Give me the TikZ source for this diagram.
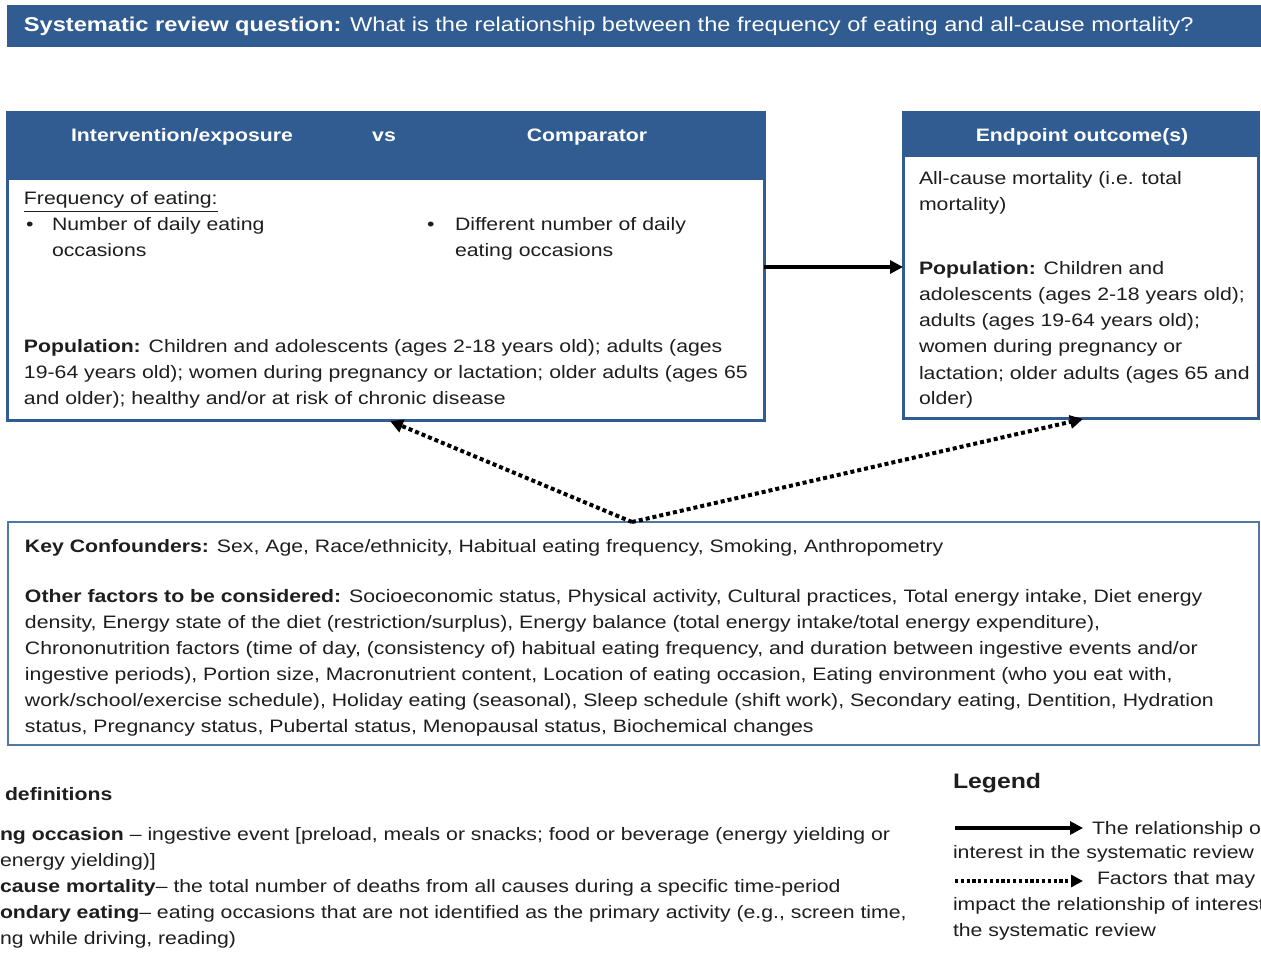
\documentclass[tikz,border=0pt]{standalone}
\usepackage{fontspec}
\setmainfont{Liberation Sans}[FakeStretch=1.18]
\usetikzlibrary{arrows.meta,fit}
\definecolor{hdrblue}{RGB}{48,92,146}
\definecolor{lineblue}{RGB}{80,120,165}
\definecolor{txt}{RGB}{30,30,30}
\begin{document}
\begin{tikzpicture}[x=0.5pt,y=-0.5pt,
  every node/.style={inner sep=0pt, outer sep=0pt},
  body/.style={font=\fontsize{9}{13}\selectfont, text=txt, align=left, anchor=base west},
  hdr/.style={font=\fontsize{9}{12}\selectfont\bfseries, text=white},
  titletxt/.style={font=\fontsize{10}{12}\selectfont, text=white, anchor=base west},
  mainbox/.style={draw=hdrblue, line width=1.5pt, fill=white},
  confbox/.style={draw=lineblue, line width=0.7pt, fill=white},
  relarrow/.style={line width=1.6pt, -{Triangle[length=6.5pt,width=6.5pt]}},
  factarrow/.style={line width=2pt, dash pattern=on 2pt off 1.5pt, -{Triangle[length=6.5pt,width=6.5pt]}},
  legfact/.style={line width=1.6pt, dash pattern=on 1.6pt off 1.3pt, -{Triangle[length=6pt,width=6pt]}},
  defhead/.style={font=\fontsize{9}{12}\selectfont\bfseries, text=txt, anchor=base west},
  leghead/.style={font=\fontsize{10.5}{12}\selectfont\bfseries, text=txt, anchor=base west},
]
\useasboundingbox (0,0) rectangle (1261,956);
\clip (0,0) rectangle (1261,956);
\fill[white] (0,0) rectangle (1261,956);

% title bar
\coordinate (t1) at (7,5); \coordinate (t2) at (1275,47);
\node[fill=hdrblue, fit=(t1)(t2)] (titlebar) {};
\node[titletxt] (title) at (24,32) {\textbf{Systematic review question:} What is the relationship between the frequency of eating and all-cause mortality?};

% exposure / comparator box
\coordinate (l1) at (7,113); \coordinate (l2) at (764,420);
\node[mainbox, fit=(l1)(l2)] (expo) {};
\fill[hdrblue] (7,113) rectangle (764,180);
\draw[hdrblue, line width=1.5pt] (expo.north west) rectangle (expo.south east);
\node[hdr] (hint) at (182,137) {Intervention/exposure};
\node[hdr] (hvs) at (384,137) {vs};
\node[hdr] (hcomp) at (587,137) {Comparator};
\node[body] (freq) at (24,205) {\underline{Frequency of eating:}};
\node[body] (b1) at (26,231) {•};
\node[body] (exptxt) at (52,257) {Number of daily eating\\occasions};
\node[body] (b2) at (427,231) {•};
\node[body] (comptxt) at (455,257) {Different number of daily\\eating occasions};
\node[body] (popl) at (24,405) {\textbf{Population:} Children and adolescents (ages 2-18 years old); adults (ages\\19-64 years old); women during pregnancy or lactation; older adults (ages 65\\and older); healthy and/or at risk of chronic disease};

% outcome box
\coordinate (r1) at (903,113); \coordinate (r2) at (1258,418);
\node[mainbox, fit=(r1)(r2)] (outc) {};
\fill[hdrblue] (903,113) rectangle (1258,157);
\draw[hdrblue, line width=1.5pt] (outc.north west) rectangle (outc.south east);
\node[hdr] (hout) at (1082,137) {Endpoint outcome(s)};
\node[body] (outtxt) at (919,211) {All-cause mortality (i.e. total\\mortality)};
\node[body] (popr) at (919,405) {\textbf{Population:} Children and\\adolescents (ages 2-18 years old);\\adults (ages 19-64 years old);\\women during pregnancy or\\lactation; older adults (ages 65 and\\older)};

% confounders box
\coordinate (c1) at (8,522); \coordinate (c2) at (1259,745);
\node[confbox, fit=(c1)(c2)] (conf) {};
\node[body] (keyc) at (25,552) {\textbf{Key Confounders:} Sex, Age, Race/ethnicity, Habitual eating frequency, Smoking, Anthropometry};
\node[body] (other) at (25,732) {\textbf{Other factors to be considered:} Socioeconomic status, Physical activity, Cultural practices, Total energy intake, Diet energy\\density, Energy state of the diet (restriction/surplus), Energy balance (total energy intake/total energy expenditure),\\Chrononutrition factors (time of day, (consistency of) habitual eating frequency, and duration between ingestive events and/or\\ingestive periods), Portion size, Macronutrient content, Location of eating occasion, Eating environment (who you eat with,\\work/school/exercise schedule), Holiday eating (seasonal), Sleep schedule (shift work), Secondary eating, Dentition, Hydration\\status, Pregnancy status, Pubertal status, Menopausal status, Biochemical changes};

% connectors
\coordinate (ay) at (0,267);
\draw[relarrow] (expo.east |- ay) -- (outc.west |- ay);
\coordinate (d1) at (390,421);
\coordinate (d2) at (1083,419);
\coordinate (d0) at (632,522);
\draw[factarrow] (d0) -- (d1);
\draw[factarrow] (d0) -- (d2);

% definitions
\node[defhead] (defh) at (5,800) {definitions};
\node[body] (def1) at (0,866) {\textbf{ng occasion} – ingestive event [preload, meals or snacks; food or beverage (energy yielding or\\energy yielding)]};
\node[body] (def2) at (0,944) {\textbf{cause mortality}– the total number of deaths from all causes during a specific time-period\\\textbf{ondary eating}– eating occasions that are not identified as the primary activity (e.g., screen time,\\ng while driving, reading)};

% legend
\node[leghead] (legh) at (953,788) {Legend};
\coordinate (la1) at (955,828); \coordinate (la2) at (1083,828);
\draw[relarrow] (la1) -- (la2);
\node[body] (leg1a) at (1092,834) {The relationship of};
\node[body] (leg1b) at (953,858) {interest in the systematic review};
\coordinate (lb1) at (955,881); \coordinate (lb2) at (1083,881);
\draw[legfact] (lb1) -- (lb2);
\node[body] (leg2a) at (1097,884) {Factors that may};
\node[body] (leg2b) at (953,936) {impact the relationship of interest\\the systematic review};
\end{tikzpicture}
\end{document}
